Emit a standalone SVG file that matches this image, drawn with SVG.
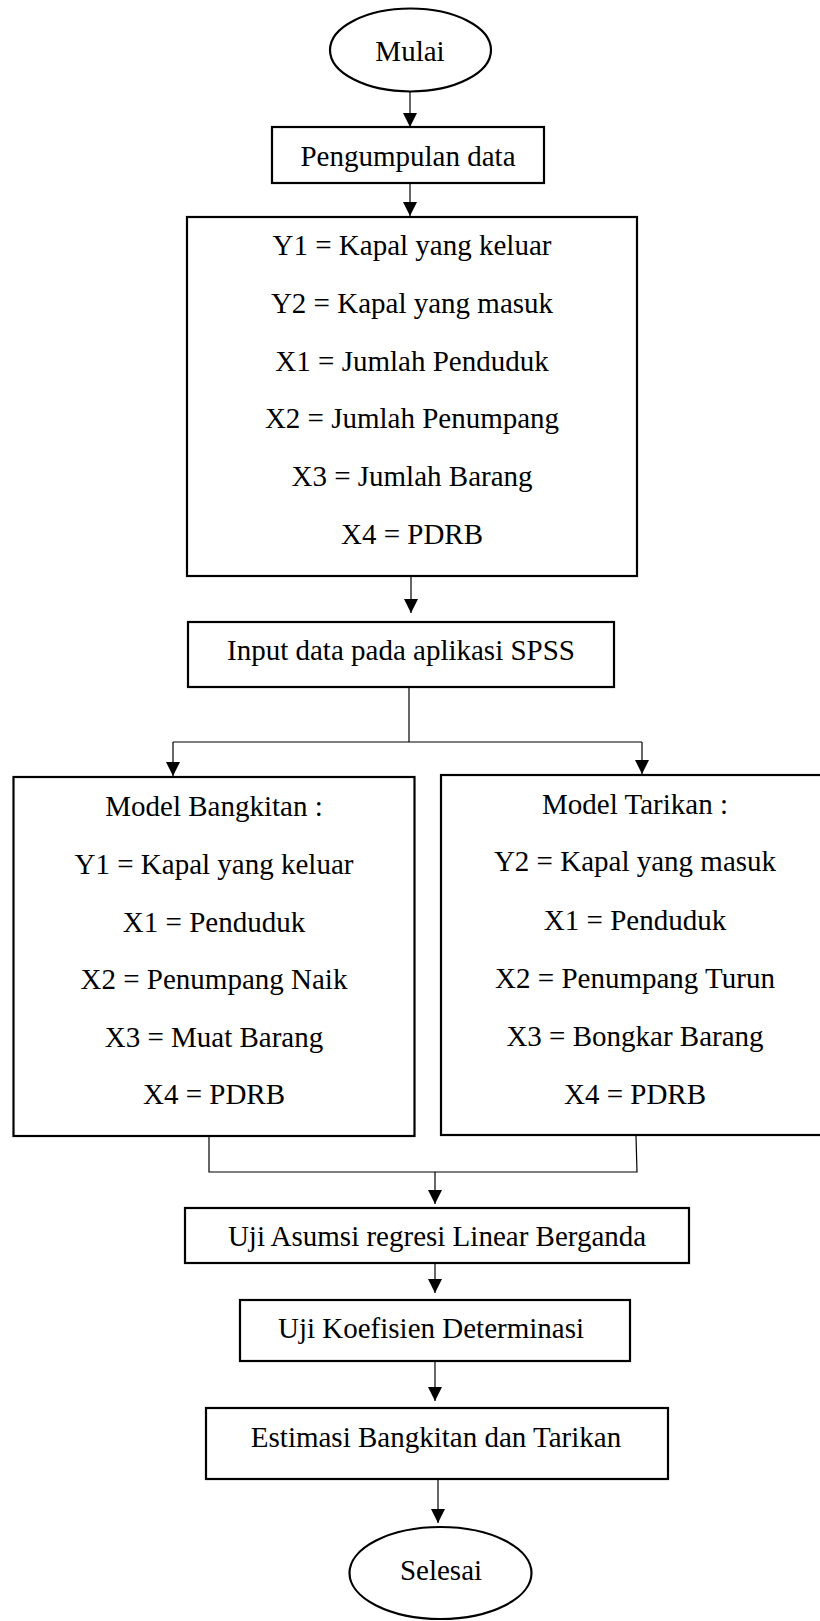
<svg xmlns="http://www.w3.org/2000/svg" width="820" height="1621" viewBox="0 0 820 1621">
<defs>
<marker id="ah" markerWidth="14" markerHeight="14" refX="14" refY="7" orient="auto" markerUnits="userSpaceOnUse">
<path d="M0,0 L14,7 L0,14 Z" fill="#000"/>
</marker>
<style>
.box{fill:#fff;stroke:#000;stroke-width:2.2}
.t{font-family:"Liberation Serif","Times New Roman",serif;font-size:29px;fill:#000;text-anchor:middle}
.c{fill:none;stroke:#000;stroke-width:1.2}
</style>
</defs>
<rect width="820" height="1621" fill="#fff"/>
<g id="connectors">
<line class="c" x1="410" y1="91" x2="410" y2="127" marker-end="url(#ah)"/>
<line class="c" x1="410" y1="183" x2="410" y2="216" marker-end="url(#ah)"/>
<line class="c" x1="411" y1="576" x2="411" y2="613" marker-end="url(#ah)"/>
<polyline class="c" points="409,687 409,742"/>
<polyline class="c" points="173,742 642,742"/>
<line class="c" x1="173" y1="742" x2="173" y2="776" marker-end="url(#ah)"/>
<line class="c" x1="642" y1="742" x2="642" y2="774" marker-end="url(#ah)"/>
<polyline class="c" points="209,1136 209,1172 637,1172 636,1136"/>
<line class="c" x1="435" y1="1172" x2="435" y2="1204" marker-end="url(#ah)"/>
<line class="c" x1="435" y1="1263" x2="435" y2="1293" marker-end="url(#ah)"/>
<line class="c" x1="435" y1="1361" x2="435" y2="1401" marker-end="url(#ah)"/>
<line class="c" x1="438" y1="1480" x2="438" y2="1523" marker-end="url(#ah)"/>
</g>
<g id="mulai">
<ellipse class="box" cx="410.5" cy="50" rx="80.5" ry="41.5"/>
<text class="t" x="410" y="61">Mulai</text>
</g>
<g id="pengumpulan">
<rect class="box" x="272" y="127" width="272" height="56"/>
<text class="t" x="408" y="166">Pengumpulan data</text>
</g>
<g id="variabel">
<rect class="box" x="187" y="217" width="450" height="359"/>
<text class="t" x="412" y="255">Y1 = Kapal yang keluar</text>
<text class="t" x="412" y="313">Y2 = Kapal yang masuk</text>
<text class="t" x="412" y="371">X1 = Jumlah Penduduk</text>
<text class="t" x="412" y="428">X2 = Jumlah Penumpang</text>
<text class="t" x="412" y="486">X3 = Jumlah Barang</text>
<text class="t" x="412" y="544">X4 = PDRB</text>
</g>
<g id="input">
<rect class="box" x="188" y="622" width="426" height="65"/>
<text class="t" x="401" y="660">Input data pada aplikasi SPSS</text>
</g>
<g id="bangkitan">
<rect class="box" x="13.5" y="777" width="401" height="359"/>
<text class="t" x="214" y="816">Model Bangkitan :</text>
<text class="t" x="214" y="874">Y1 = Kapal yang keluar</text>
<text class="t" x="214" y="932">X1 = Penduduk</text>
<text class="t" x="214" y="989">X2 = Penumpang Naik</text>
<text class="t" x="214" y="1047">X3 = Muat Barang</text>
<text class="t" x="214" y="1104">X4 = PDRB</text>
</g>
<g id="tarikan">
<rect class="box" x="441" y="775" width="389" height="360"/>
<text class="t" x="635" y="814">Model Tarikan :</text>
<text class="t" x="635" y="871">Y2 = Kapal yang masuk</text>
<text class="t" x="635" y="930">X1 = Penduduk</text>
<text class="t" x="635" y="988">X2 = Penumpang Turun</text>
<text class="t" x="635" y="1046">X3 = Bongkar Barang</text>
<text class="t" x="635" y="1104">X4 = PDRB</text>
</g>
<g id="asumsi">
<rect class="box" x="185" y="1208" width="504" height="55"/>
<text class="t" x="437" y="1246">Uji Asumsi regresi Linear Berganda</text>
</g>
<g id="koefisien">
<rect class="box" x="240" y="1300" width="390" height="61"/>
<text class="t" x="431" y="1338">Uji Koefisien Determinasi</text>
</g>
<g id="estimasi">
<rect class="box" x="206" y="1408" width="462" height="71"/>
<text class="t" x="436" y="1447">Estimasi Bangkitan dan Tarikan</text>
</g>
<g id="selesai">
<ellipse class="box" cx="440.5" cy="1573" rx="91" ry="46"/>
<text class="t" x="441" y="1580">Selesai</text>
</g>
</svg>
